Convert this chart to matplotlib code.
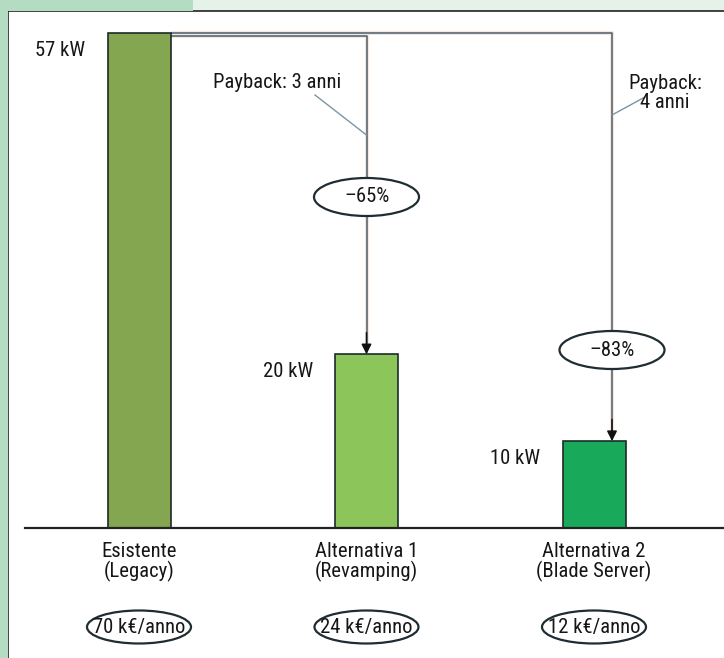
import matplotlib
matplotlib.use("Agg")
import matplotlib.pyplot as plt
from matplotlib import font_manager
from matplotlib.patches import Ellipse, Rectangle

# data
categories = ['Esistente\n(Legacy)', 'Alternativa 1\n(Revamping)', 'Alternativa 2\n(Blade Server)']
power_kw = [57, 20, 10]
power_labels = ['57 kW', '20 kW', '10 kW']
cost_labels = ['70 k€/anno', '24 k€/anno', '12 k€/anno']
reductions = ['\u201365%', '\u201383%']
paybacks = ['Payback: 3 anni', 'Payback:\n4 anni']
bar_colors = ['#84a650', '#8cc65a', '#18a95b']

# pick a narrow face if one is installed
installed = {f.name for f in font_manager.fontManager.ttflist}
stretch = 'normal'
family = 'Liberation Sans'
for name in ['Liberation Sans Narrow', 'Roboto Condensed', 'Open Sans Condensed',
             'Arial Narrow', 'Noto Sans Condensed']:
    if name in installed:
        family = name
        break
else:
    if any(f.name == 'DejaVu Sans' and f.stretch == 'condensed'
           for f in font_manager.fontManager.ttflist):
        family, stretch = 'DejaVu Sans', 'condensed'
plt.rcParams['font.family'] = [family, 'DejaVu Sans']
plt.rcParams['font.stretch'] = stretch

# layout (pixels of the 724x658 canvas)
W, H = 724, 658
PANEL_L, PANEL_T = 8, 11
BASE_Y = 528          # baseline row
TOP_Y = 33            # top of the tallest bar
X0, DX = 139, 227.5   # first bar centre, spacing
px_y = (BASE_Y - TOP_Y) / max(power_kw)   # pixels per kW
BAR_W = 63 / DX

LINE = '#4a5f6b'
HALO = '#f6e6de'
INK = '#161616'

fig = plt.figure(figsize=(W / 100, H / 100), dpi=100)
fig.patch.set_facecolor('#e4f2e8')

# size the type so 'Payback: 3 anni' is about 128 px wide, as in the source
renderer = fig.canvas.get_renderer()
probe = fig.text(0, 0, paybacks[0], fontsize=15)
FS = min(17, 15 * 128 / probe.get_window_extent(renderer).width)
probe.remove()

fig.add_artist(Rectangle((0, 0), PANEL_L / W, 1, transform=fig.transFigure,
                         color='#b4dcc3', lw=0))
fig.add_artist(Rectangle((0, 1 - PANEL_T / H), 193 / W, PANEL_T / H,
                         transform=fig.transFigure, color='#b4dcc3', lw=0))

ax = fig.add_axes([PANEL_L / W, 0, (W - PANEL_L) / W, (H - PANEL_T) / H])
ax.set_facecolor('white')
ax.set_xlim(-(X0 - PANEL_L) / DX, 2 + (W - (X0 + 2 * DX)) / DX)
ax.set_ylim(-(H - BASE_Y) / px_y, (BASE_Y - PANEL_T) / px_y)
ax.set_xticks([])
ax.set_yticks([])
for side in ['right', 'bottom']:
    ax.spines[side].set_visible(False)
for side in ['left', 'top']:
    ax.spines[side].set_linewidth(1.2)
    ax.spines[side].set_color('#222222')

xs = list(range(len(categories)))

# bars
ax.bar(xs, power_kw, width=BAR_W, color=bar_colors, edgecolor='#1d2b28',
       linewidth=1.2, zorder=3)

# baseline
ax.axhline(0, xmin=(25 - PANEL_L) / (W - PANEL_L), xmax=1, color='#222222',
           lw=1.6, zorder=4)

# value labels left of the bars
for x, v, lab in zip(xs, power_kw, power_labels):
    ax.annotate(lab, (x - BAR_W / 2, v), xytext=(-22, -17),
                textcoords='offset pixels', ha='right', va='center',
                fontsize=FS, color=INK)

# category labels and yearly cost ellipses
for x, cat, cost in zip(xs, categories, cost_labels):
    ax.annotate(cat, (x, 0), xytext=(0, -14), textcoords='offset pixels',
                ha='center', va='top', fontsize=FS, color=INK, linespacing=1.0)
    yc = -(627 - BASE_Y) / px_y
    ax.add_patch(Ellipse((x, yc), 104 / DX, 33 / px_y, facecolor='white',
                         edgecolor='#1f2d33', lw=1.6, zorder=5))
    ax.text(x, yc, cost, ha='center', va='center', fontsize=FS, color=INK,
            zorder=6)

# connector lines from the legacy bar down to each alternative
x_start = xs[0] + BAR_W / 2
targets = [
    (xs[1], power_kw[0] - 3 / px_y, power_kw[1]),
    (xs[2] + 18 / DX, power_kw[0], power_kw[2]),
]
red_y = [(BASE_Y - 197) / px_y, (BASE_Y - 350) / px_y]
for (tx, hy, vy), red, ry in zip(targets, reductions, red_y):
    for c, lw, z in [(HALO, 3.0, 1), (LINE, 1.1, 2)]:
        ax.plot([x_start, tx, tx], [hy, hy, vy + 1.2], color=c, lw=lw,
                zorder=z, solid_capstyle='butt')
    ax.annotate('', xy=(tx, vy), xytext=(tx, vy + 2.5),
                arrowprops=dict(arrowstyle='-|>', color='#111111', lw=1.1,
                                mutation_scale=15, shrinkA=0, shrinkB=0),
                zorder=4)
    ax.add_patch(Ellipse((tx, ry), 105 / DX, 38 / px_y, facecolor='white',
                         edgecolor='#1f2d33', lw=1.6, zorder=5))
    ax.text(tx, ry, red, ha='center', va='center', fontsize=FS, color=INK,
            zorder=6)

# payback notes with leader lines
pb_text_pos = [((277 - X0) / DX, (BASE_Y - 83) / px_y),
               ((665 - X0) / DX, (BASE_Y - 93) / px_y)]
pb_leader = [
    [((315 - X0) / DX, (BASE_Y - 95) / px_y), (targets[0][0], (BASE_Y - 135) / px_y)],
    [((645 - X0) / DX, (BASE_Y - 97) / px_y), (targets[1][0], (BASE_Y - 115) / px_y)],
]
for txt, (px, py), seg in zip(paybacks, pb_text_pos, pb_leader):
    ax.text(px, py, txt, ha='center', va='center', fontsize=FS, color=INK,
            linespacing=1.0, zorder=6)
    (x1, y1), (x2, y2) = seg
    ax.plot([x1, x2], [y1, y2], color='#7a95a3', lw=1.0, zorder=2)

fig.savefig('out.png', dpi=100, facecolor=fig.get_facecolor())
